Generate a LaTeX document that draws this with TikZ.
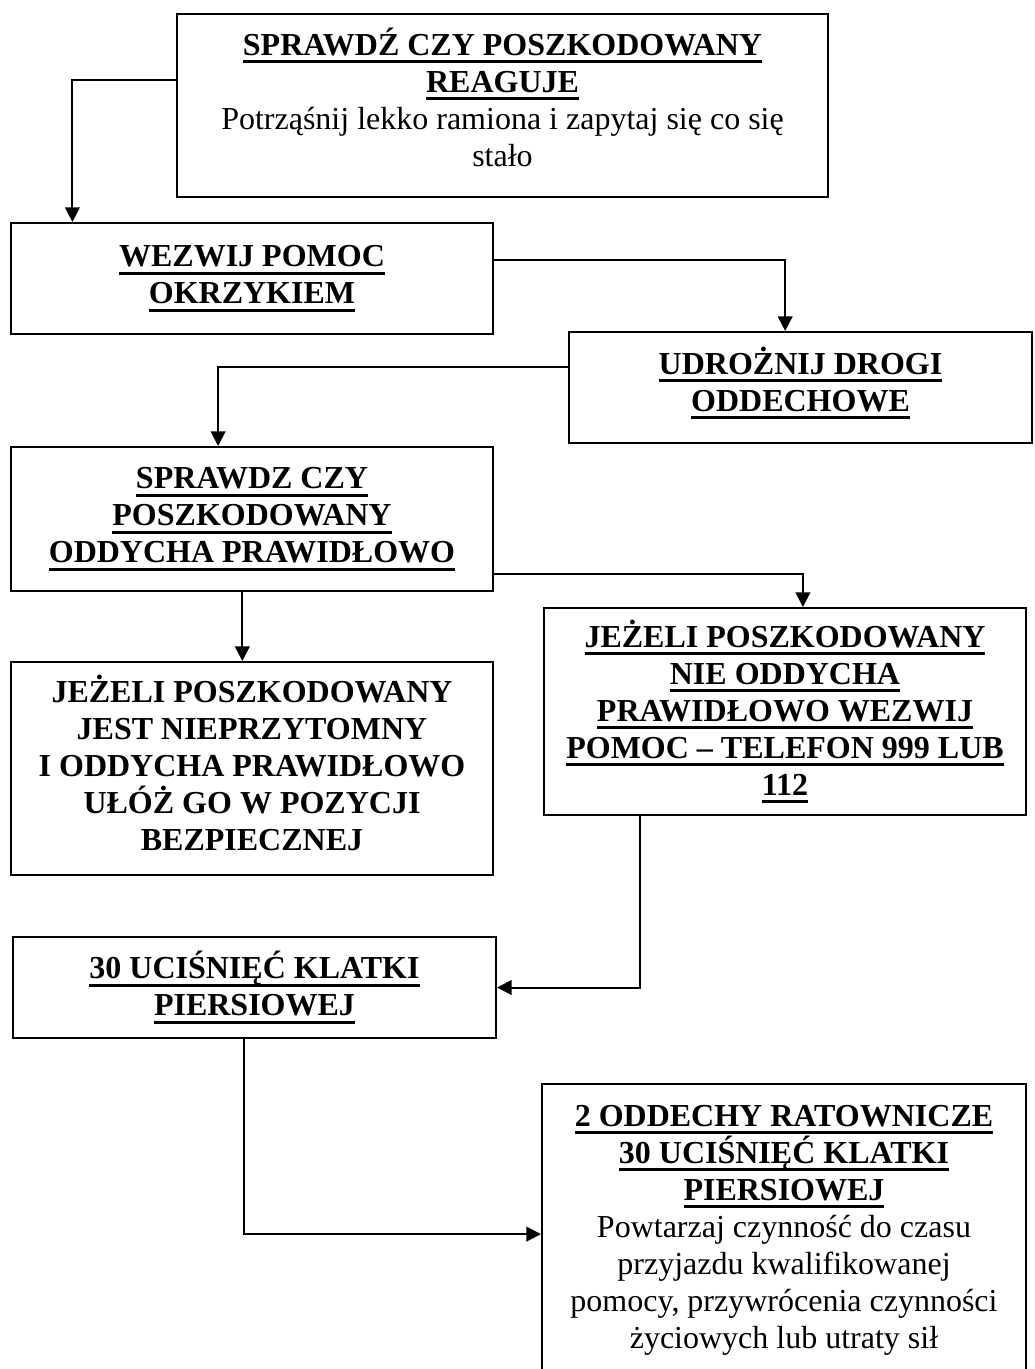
\documentclass[tikz,border=0pt]{standalone}
\usepackage{fontspec}
\setmainfont{Liberation Serif}
\usetikzlibrary{arrows.meta,calc}
\newsavebox{\ulbox}
\newcommand\ulx[1]{\sbox\ulbox{#1}\leavevmode\rlap{\rule[-6pt]{\wd\ulbox}{2.2pt}}\usebox\ulbox}
\newcommand\hd[1]{{\bfseries\ulx{#1}}}
\begin{document}
\begin{tikzpicture}[x=0.75pt,y=-0.75pt,
  box/.style={draw, line width=1.5pt, inner sep=0pt, align=center, font=\fontsize{24}{27.75}\selectfont},
  conn/.style={line width=1.5pt},
  arr/.style={conn, -{Triangle[length=11pt,width=11pt]}}]
\useasboundingbox (0,0) rectangle (1034,1369);
\fill[white] (0,0) rectangle (1034,1369);

\node[box, minimum width=488.25pt, minimum height=137.25pt, text depth=13pt] (b1) at (502.5,105.5)
  {\hd{SPRAWDŹ CZY POSZKODOWANY}\\ \hd{REAGUJE}\\ Potrząśnij lekko ramiona i zapytaj się co się\\ stało};
\node[box, minimum width=361.5pt, minimum height=83.25pt] (b2) at (252,278.5)
  {\hd{WEZWIJ POMOC}\\ \hd{OKRZYKIEM}};
\node[box, minimum width=347.25pt, minimum height=83.25pt, text depth=13pt] (b3) at (800.5,387.5)
  {\hd{UDROŻNIJ DROGI}\\ \hd{ODDECHOWE}};
\node[box, minimum width=361.5pt, minimum height=108pt] (b4) at (252,519)
  {\hd{SPRAWDZ CZY}\\ \hd{POSZKODOWANY}\\ \hd{ODDYCHA PRAWIDŁOWO}};
\node[box, minimum width=361.5pt, minimum height=155.25pt] (b5) at (785,711.5)
  {\hd{JEŻELI POSZKODOWANY}\\ \hd{NIE ODDYCHA}\\ \hd{PRAWIDŁOWO WEZWIJ}\\ \hd{POMOC – TELEFON 999 LUB}\\ \hd{112}};
\node[box, minimum width=361.5pt, minimum height=159.75pt, text depth=8pt, font=\fontsize{24}{27.75}\selectfont\bfseries] (b6) at (252,768.5)
  {JEŻELI POSZKODOWANY\\ JEST NIEPRZYTOMNY\\ I ODDYCHA PRAWIDŁOWO\\ UŁÓŻ GO W POZYCJI\\ BEZPIECZNEJ};
\node[box, minimum width=362.25pt, minimum height=75.75pt] (b7) at (254.5,987.5)
  {\hd{30 UCIŚNIĘĆ KLATKI}\\ \hd{PIERSIOWEJ}};
\node[box, minimum width=363pt, minimum height=219pt] (b8) at (784,1230)
  {\hd{2 ODDECHY RATOWNICZE}\\ \hd{30 UCIŚNIĘĆ KLATKI}\\ \hd{PIERSIOWEJ}\\ Powtarzaj czynność do czasu\\ przyjazdu kwalifikowanej\\ pomocy, przywrócenia czynności\\ życiowych lub utraty sił};

% connectors
\draw[arr] ($(b1.north west)!0.36!(b1.south west)$) -| ($(b2.north west)!0.129!(b2.north east)$);
\draw[arr] ($(b2.north east)!0.34!(b2.south east)$) -| ($(b3.north west)!0.467!(b3.north east)$);
\draw[arr] ($(b3.north west)!0.315!(b3.south west)$) -| ($(b4.north west)!0.43!(b4.north east)$);
\draw[arr] ($(b4.north east)!0.875!(b4.south east)$) -| ($(b5.north west)!0.537!(b5.north east)$);
\draw[arr] ($(b4.south west)!0.48!(b4.south east)$) -- ($(b6.north west)!0.48!(b6.north east)$);
\draw[arr] ($(b5.south west)!0.2!(b5.south east)$) |- (b7.east);
\draw[arr] ($(b7.south west)!0.478!(b7.south east)$) |- ($(b8.north west)!0.514!(b8.south west)$);
\end{tikzpicture}
\end{document}
